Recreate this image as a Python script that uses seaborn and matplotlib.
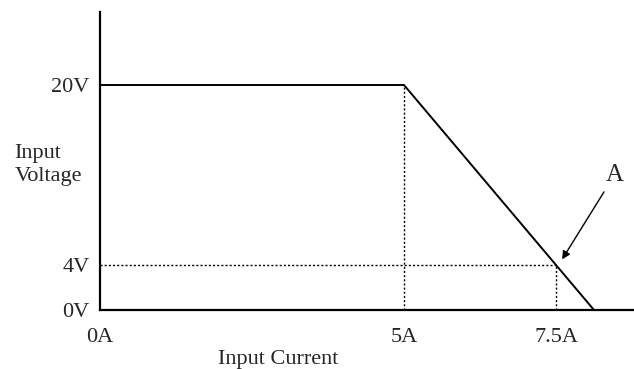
import matplotlib
matplotlib.use("Agg")
import matplotlib.pyplot as plt
import seaborn as sns
import pandas as pd

# characteristic curve: flat at 20V until 5A, then linear fall to 0V
current = [0, 5, 8.125]
voltage = [20, 20, 0]

# point A on the slope
point_a_current = 7.5
point_a_voltage = 4

x_ticks = [0, 5, 7.5]
x_labels = ["0A", "5A", "7.5A"]
y_ticks = [0, 4, 20]
y_labels = ["0V", "4V", "20V"]

sns.set_style("white")
plt.rcParams["font.family"] = ["Liberation Serif", "DejaVu Serif"]

fig = plt.figure(figsize=(6.34, 3.69), dpi=100)
ax = fig.add_axes([100 / 634, 59 / 369, 534 / 634, 298 / 369])

df = pd.DataFrame({"current": current, "voltage": voltage})
sns.lineplot(data=df, x="current", y="voltage", ax=ax, color="black",
             linewidth=1.4, sort=False)

# dotted guide lines
dot = dict(color="black", linewidth=1.0, linestyle=(0, (1.5, 1.5)))
ax.plot([current[1], current[1]], [0, voltage[1]], **dot)
ax.plot([0, point_a_current], [point_a_voltage, point_a_voltage], **dot)
ax.plot([point_a_current, point_a_current], [0, point_a_voltage], **dot)

ax.set_xlim(0, 534 / 60.8)
ax.set_ylim(0, 298 / 11.25)

for side in ["top", "right"]:
    ax.spines[side].set_visible(False)
for side in ["left", "bottom"]:
    ax.spines[side].set_linewidth(1.6)
    ax.spines[side].set_color("black")

ax.set_xticks(x_ticks)
ax.set_xticklabels(x_labels, fontsize=16)
ax.set_yticks(y_ticks)
ax.set_yticklabels(y_labels, fontsize=16)
ax.tick_params(axis="x", direction="out", length=7, width=1.0,
               color="black", pad=6)
ax.tick_params(axis="y", direction="out", length=7, width=1.0,
               color="black", pad=0.5)
# no tick marks at the origin
ax.xaxis.get_major_ticks()[0].tick1line.set_visible(False)
ax.yaxis.get_major_ticks()[0].tick1line.set_visible(False)

ax.set_xlabel("Input Current", fontsize=16, va="top")
ax.xaxis.set_label_coords(0.333, -0.135)
ax.set_ylabel("Input\nVoltage", fontsize=16, rotation=0, ha="left",
              va="center", multialignment="left", linespacing=1.3)
ax.yaxis.set_label_coords(-0.16, 0.487)

ax.annotate("A", xy=(point_a_current + 0.1, point_a_voltage + 0.5),
            xytext=(8.46, 11.0), fontsize=18, ha="center", va="bottom",
            arrowprops=dict(arrowstyle="-|>", color="black", lw=1.0,
                            mutation_scale=12, shrinkA=2, shrinkB=0))

fig.savefig("out.png", dpi=100)
